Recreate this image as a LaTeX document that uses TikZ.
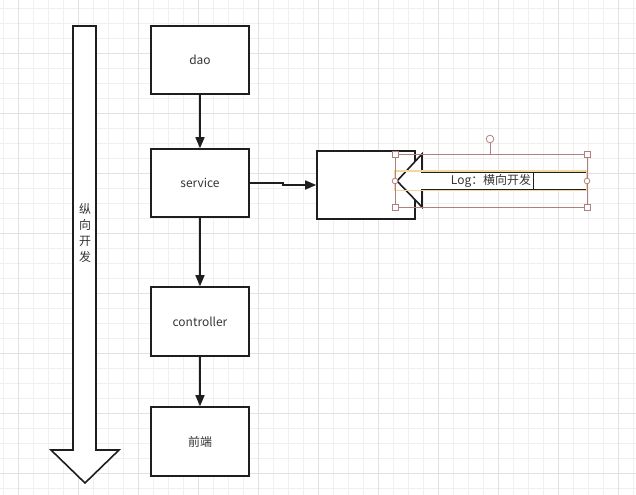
\documentclass[tikz,border=0pt]{standalone}
\usepackage{fontspec}
\setmainfont{Noto Sans CJK SC}
\usetikzlibrary{arrows.meta}
\definecolor{gridminor}{HTML}{F0F0F0}
\definecolor{gridmajor}{HTML}{E2E2E2}
\definecolor{ink}{HTML}{1E1E1E}
\definecolor{txt}{HTML}{333333}
\definecolor{selcol}{HTML}{B08080}
\definecolor{editcol}{HTML}{F2D6A0}
\tikzset{
  box/.style={draw=ink, line width=1.6bp, fill=white, minimum width=98bp, minimum height=68bp, inner sep=0pt, font=\fontsize{12}{14}\selectfont, text=txt},
  conn/.style={draw=ink, line width=1.6bp, -{Triangle[length=11bp,width=9bp]}},
  blockarrow/.style={draw=ink, line width=1.6bp, fill=white, line join=miter},
  handle/.style={draw=selcol, fill=white, line width=0.8bp},
}
\begin{document}
\begin{tikzpicture}[x=1bp,y=-1bp]
\useasboundingbox (0,0) rectangle (636,495);
\fill[white] (0,0) rectangle (636,495);
% grid
\foreach \gx in {3,18,...,633} {\draw[gridminor, line width=0.8bp] (\gx,0) -- (\gx,495);}
\foreach \gy in {8,23,...,493} {\draw[gridminor, line width=0.8bp] (0,\gy) -- (636,\gy);}
\foreach \gx in {18,78,...,618} {\draw[gridmajor, line width=0.8bp] (\gx,0) -- (\gx,495);}
\foreach \gy in {53,113,...,473} {\draw[gridmajor, line width=0.8bp] (0,\gy) -- (636,\gy);}

% vertical block arrow
\draw[blockarrow] (73,26) -- (96,26) -- (96,450) -- (119,450) -- (85,483) -- (51,450) -- (73,450) -- cycle;
\node[text=txt, font=\fontsize{12}{16}\selectfont, align=center, inner sep=0pt] (vlabel) at (85,233) {纵\\向\\开\\发};

% boxes
\node[box] (dao) at (200,60) {dao};
\node[box] (service) at (200,183) {service};
\node[box, minimum height=69bp] (controller) at (200,321.5) {controller};
\node[box, minimum height=69bp] (front) at (200,441.5) {前端};
\node[box] (logbox) at (366,185) {};

% connectors
\draw[conn] (dao) -- (service);
\draw[conn] (service) -- (controller);
\draw[conn] (controller) -- (front);
\draw[conn] (service.east) -- (283,183) -- (283,185) -- (logbox.west);

% horizontal block arrow (Log)
\draw[blockarrow] (422,172) -- (587,172) -- (587,190) -- (422,190) -- (422,207) -- (397,181) -- (422,154) -- cycle;
\draw[editcol, line width=1.5bp] (395,171) rectangle (587,190.5);
\node[text=txt, font=\fontsize{12}{14}\selectfont, inner sep=0pt] (loglabel) at (491,181) {Log：横向开发};
\draw[ink, line width=0.8bp] (533,172) -- (533,190);
% selection
\draw[selcol, line width=0.6bp] (395,154) rectangle (587,207);
\draw[selcol, line width=0.8bp] (490,154) -- (490,143);
\draw[handle] (490,139) circle (3.8bp);
\foreach \hx/\hy in {395/154,587/154,395/207,587/207} {\draw[handle] (\hx-3,\hy-3) rectangle (\hx+3,\hy+3);}
\draw[handle] (395,181) circle (2.8bp);
\draw[handle] (587,181) circle (2.8bp);
\end{tikzpicture}
\end{document}
